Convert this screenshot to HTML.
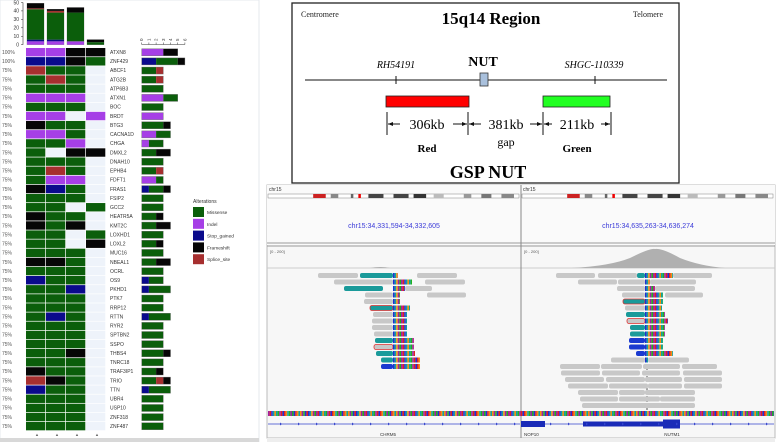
<!DOCTYPE html>
<html><head><meta charset="utf-8"><style>
html,body{margin:0;padding:0;background:#fff;}
svg{display:block;font-family:"Liberation Sans",sans-serif;}
.serif{font-family:"Liberation Serif",serif;}
</style></head><body>
<svg id="fig" width="778" height="442" viewBox="0 0 778 442" xmlns="http://www.w3.org/2000/svg">
<rect x="0" y="0" width="778" height="442" fill="#fff"/>
<rect x="0" y="0" width="259" height="442" fill="#fff" stroke="#e4e8ee" stroke-width="1"/>
<g id="onco"></g>
<rect x="0" y="438" width="259" height="4" fill="#d8d8d8"/>

<g class="serif">
<rect x="292" y="3" width="387" height="180" fill="#fff" stroke="#222" stroke-width="1.3"/>
<text x="301" y="17" font-size="8" fill="#222">Centromere</text>
<text x="663" y="17" font-size="8" fill="#222" text-anchor="end">Telomere</text>
<text x="491" y="24" font-size="17" font-weight="bold" text-anchor="middle">15q14 Region</text>
<text x="396" y="68" font-size="10" font-style="italic" text-anchor="middle">RH54191</text>
<text x="483" y="66" font-size="14" font-weight="bold" text-anchor="middle">NUT</text>
<text x="594" y="68" font-size="10" font-style="italic" text-anchor="middle">SHGC-110339</text>
<line x1="305" y1="80" x2="667" y2="80" stroke="#111" stroke-width="1"/>
<line x1="396" y1="76" x2="396" y2="84" stroke="#111"/>
<line x1="595" y1="76" x2="595" y2="84" stroke="#111"/>
<rect x="480" y="73" width="8" height="13" fill="#a9c0dc" stroke="#333" stroke-width="0.8"/>
<rect x="386" y="96" width="83" height="11" fill="#f00" stroke="#222" stroke-width="0.8"/>
<rect x="543" y="96" width="67" height="11" fill="#2f2" stroke="#222" stroke-width="0.8"/>
<g stroke="#111" stroke-width="1">
<line x1="387" y1="112" x2="387" y2="135"/><line x1="468" y1="112" x2="468" y2="135"/>
<line x1="543" y1="112" x2="543" y2="135"/><line x1="611" y1="112" x2="611" y2="135"/>
<line x1="388" y1="124" x2="400" y2="124"/><line x1="453" y1="124" x2="467" y2="124"/>
<line x1="469" y1="124" x2="481" y2="124"/><line x1="530" y1="124" x2="542" y2="124"/>
<line x1="544" y1="124" x2="552" y2="124"/><line x1="601" y1="124" x2="610" y2="124"/>
</g>
<g fill="#111">
<polygon points="388,124 393,122 393,126"/><polygon points="467,124 462,122 462,126"/>
<polygon points="469,124 474,122 474,126"/><polygon points="542,124 537,122 537,126"/>
<polygon points="544,124 549,122 549,126"/><polygon points="610,124 605,122 605,126"/>
</g>
<text x="427" y="129" font-size="14" text-anchor="middle">306kb</text>
<text x="506" y="129" font-size="14" text-anchor="middle">381kb</text>
<text x="577" y="129" font-size="14" text-anchor="middle">211kb</text>
<text x="427" y="152" font-size="11" font-weight="bold" text-anchor="middle">Red</text>
<text x="506" y="146" font-size="12" text-anchor="middle">gap</text>
<text x="577" y="152" font-size="11" font-weight="bold" text-anchor="middle">Green</text>
<text x="488" y="178" font-size="18" font-weight="bold" text-anchor="middle">GSP NUT</text>
</g>

<g id="igv">
<rect x="267" y="185" width="508" height="253" fill="#f7f7f7" stroke="#bbb"/>
<rect x="267" y="185" width="508" height="60" fill="#fafafa"/>
<line x1="267" y1="243" x2="775" y2="243" stroke="#999"/><line x1="267" y1="246" x2="775" y2="246" stroke="#999"/>
<line x1="267" y1="268" x2="775" y2="268" stroke="#ccc"/>
<line x1="521" y1="185" x2="521" y2="438" stroke="#888"/>
<text x="269" y="191" font-size="5" fill="#333">chr15</text>
<text x="523" y="191" font-size="5" fill="#333">chr15</text>
<text x="394" y="228" font-size="7" fill="#3a3ad8" text-anchor="middle">chr15:34,331,594-34,332,605</text>
<text x="648" y="228" font-size="7" fill="#3a3ad8" text-anchor="middle">chr15:34,635,263-34,636,274</text>
<text x="270" y="253" font-size="4" fill="#555">[0 - 200]</text>
<text x="524" y="253" font-size="4" fill="#555">[0 - 200]</text>
<path d="M572 268 Q610 266 630 258 Q650 248 655 249 Q662 248 680 258 Q700 266 725 268 Z" fill="#b0b0b0"/>
<path d="M370 268 Q380 266 390 268 Z" fill="#b0b0b0"/>
<line x1="647" y1="360" x2="647" y2="410" stroke="#555" stroke-dasharray="2,2"/>
<line x1="268" y1="424" x2="520" y2="424" stroke="#3344cc" stroke-width="0.8"/>
<line x1="522" y1="424" x2="774" y2="424" stroke="#3344cc" stroke-width="0.8"/>
<rect x="521" y="421" width="24" height="6" fill="#1a2bb8"/>
<rect x="583" y="421.5" width="80" height="5" fill="#1a2bb8"/>
<rect x="663" y="419.5" width="17" height="9" fill="#1a2bb8"/>
<text x="388" y="436" font-size="4.5" fill="#333" text-anchor="middle">CHRM5</text>
<text x="524" y="436" font-size="4.5" fill="#333">NOP10</text>
<text x="672" y="436" font-size="4.5" fill="#333" text-anchor="middle">NUTM1</text>
</g>
<rect x="267" y="438" width="508" height="4" fill="#eee"/>
</svg>
<script>
const NS='http://www.w3.org/2000/svg';
function mk(parent,tag,attrs){const e=document.createElementNS(NS,tag);for(const k in attrs)e.setAttribute(k,attrs[k]);parent.appendChild(e);return e;}

const genes=["ATXN8","ZNF429","ABCF1","ATG2B","ATP6B3","ATXN1","BOC","BRDT","BTG3","CACNA1D","CHGA","DMXL2","DNAH10","EPHB4","FDFT1","FRAS1","FSIP2","GCC2","HEATR5A","KMT2C","LOXHD1","LOXL2","MUC16","NBEAL1","OCRL","OS9","PKHD1","PTK7","RRP12","RTTN","RYR2","SPTBN2","SSPO","THBS4","TNRC18","TRAF3IP1","TRIO","TTN","UBR4","USP10","ZNF318","ZNF487"];
const percents=["100%","100%","75%","75%","75%","75%","75%","75%","75%","75%","75%","75%","75%","75%","75%","75%","75%","75%","75%","75%","75%","75%","75%","75%","75%","75%","75%","75%","75%","75%","75%","75%","75%","75%","75%","75%","75%","75%","75%","75%","75%","75%"];
const matrix=["PPKK","BBKG","RGGE","GRGE","GGGE","PPPE","GGGE","PPEP","KGGE","PPGE","GGPE","GEKK","GGGE","GRGE","GPPE","KBGE","GGGE","GGEG","KGGE","KGKE","GGEG","GGEK","GGGE","KKGE","GGGE","BGGE","GGBE","GGGE","GGGE","GBGE","GGGE","GGGE","GGGE","GGKE","GGGE","KGGE","RKGE","BGGE","GGGE","GGGE","GGGE","GGGE"];
const sideBars=["P3K2","B2G3K1","G2R1","G2R1","G3","P3G2","G3","P3","G3K1","P2G2","P1G2","G2K2","G3","G2R1","P2G1","B1G2K1","G3","G3","G2K1","G2K2","G3","G2K1","G3","G2K2","G3","B1G2","B1G3","G3","G3","B1G3","G3","G3","G3","G3K1","G3","G2K1","G2R1K1","B1G3","G3","G3","G3","G3"];
const topStacks=[[["P",4],["B",2],["G",36],["R",1],["K",6]],[["P",4],["B",2],["G",32],["R",2],["K",2]],[["P",4],["G",34],["K",6]],[["G",3],["K",3]]];
const topTicks=[0,10,20,30,40,50];
const sideTicks=[0,1,2,3,4,5,6];
const legendTypes=["Missense","Indel","Stop_gained","Frameshift","Splice_site"];
const COL={G:"#0b5e0b",P:"#a63fe6",B:"#0a0a8c",K:"#060606",R:"#a62f2f",E:"#eef3fa"};
const legendCodes=["G","P","B","K","R"];

const onco=document.getElementById('onco');
const colX=i=>26+i*20, rowY=i=>48+i*9.12;
const topY=v=>44.7-v*0.845;
const sideX=v=>141.7+v*7.2;

let ax=mk(onco,'line',{x1:23,y1:topY(0),x2:23,y2:topY(50),stroke:'#333','stroke-width':0.6});


topTicks.forEach(t=>{
  mk(onco,'line',{x1:21,x2:23,y1:topY(t),y2:topY(t),stroke:'#333','stroke-width':0.5});
  const tx=mk(onco,'text',{x:19,y:topY(t)+1.8,'font-size':5,'text-anchor':'end',fill:'#333'});tx.textContent=t;
  
  
});
topStacks.forEach((st,i)=>{
  let acc=0;
  const tot=st.reduce((a,s)=>a+s[1],0);
  mk(onco,'rect',{x:colX(i)+1,y:topY(tot),width:17,height:topY(0)-topY(tot),fill:'none',stroke:'#888','stroke-width':0.4});
  st.forEach(s=>{
    const r=mk(onco,'rect',{x:colX(i)+1,y:topY(acc+s[1]),width:17,height:topY(acc)-topY(acc+s[1]),fill:COL[s[0]]});
    
    
    acc+=s[1];
  });
});
mk(onco,'line',{x1:sideX(0),x2:sideX(6),y1:44.5,y2:44.5,stroke:'#333','stroke-width':0.6});
sideTicks.forEach(t=>{
  mk(onco,'line',{x1:sideX(t),x2:sideX(t),y1:42.5,y2:44.5,stroke:'#333','stroke-width':0.5});
  const tx=mk(onco,'text',{x:sideX(t)+1.5,y:41,'font-size':4.5,fill:'#333',transform:`rotate(-90 ${sideX(t)+1.5} 41)`});tx.textContent=t;
  
  
});
genes.forEach((g,r)=>{
  const y=rowY(r);
  const p=mk(onco,'text',{x:2,y:y+6,'font-size':5,fill:'#555'});p.textContent=percents[r];
  
  
  for(let c=0;c<4;c++){
    const cell=mk(onco,'rect',{x:colX(c),y:y,width:19.3,height:8.4,fill:COL[matrix[r][c]]});
    
    
  }
  const gl=mk(onco,'text',{x:110,y:y+6,'font-size':5,fill:'#333'});gl.textContent=g;
  
  
  const segs=sideBars[r].match(/[A-Z]\d/g);let acc=0;
  segs.forEach(s=>{const n=+s[1];
    const b=mk(onco,'rect',{x:sideX(acc),y:y+0.8,width:sideX(acc+n)-sideX(acc),height:7,fill:COL[s[0]]});
    
    
    acc+=n;});
  mk(onco,'rect',{x:sideX(0),y:y+0.8,width:sideX(acc)-sideX(0),height:7,fill:'none',stroke:'#666','stroke-width':0.4});
});
for(let c=0;c<4;c++){const t=mk(onco,'text',{x:colX(c)+9,y:436,'font-size':4,fill:'#666'});t.textContent='▲';}
const lt=mk(onco,'text',{x:193,y:203,'font-size':5,fill:'#333'});lt.textContent='Alterations';


legendTypes.forEach((n,i)=>{
  const y=207+i*11.8;
  const b=mk(onco,'rect',{x:193,y:y,width:11,height:10,fill:COL[legendCodes[i]]});
  
  
  const t=mk(onco,'text',{x:207,y:y+7,'font-size':4.8,fill:'#333'});t.textContent=n;
  
  
});

const igv=document.getElementById('igv');
const stripeCols=["#e02020","#20b020","#f09010","#2030d0","#a020a0","#10a0a0"];
function stripes(x0,x1,y,h){for(let x=x0,k=0;x<x1;x+=1.6,k++){mk(igv,'rect',{x:x,y:y,width:Math.min(1.6,x1-x),height:h,fill:stripeCols[(k*7+Math.floor(x))%6]});}}
[[268,519],[522,773]].forEach(([a,b])=>{
  mk(igv,'rect',{x:a,y:194,width:b-a,height:4,fill:'#fff',stroke:'#666','stroke-width':0.4});
  const w=b-a;
  [[.18,.05,'#c22'],[.36,.01,'#e00'],[.25,.03,'#888'],[.33,.01,'#666'],[.4,.06,'#444'],[.5,.06,'#444'],[.58,.05,'#333'],[.66,.04,'#bbb'],[.78,.03,'#999'],[.85,.04,'#777'],[.93,.05,'#888']].forEach(([p,q,c])=>mk(igv,'rect',{x:a+p*w,y:194,width:q*w,height:4,fill:c}));
});
const leftReads=[[0,318,358,'g'],[0,360,393,'t'],[0,417,457,'g'],[1,334,393,'g'],[1,425,465,'g'],[2,344,383,'t'],[2,405,432,'g'],[3,365,393,'g'],[3,427,466,'g'],[4,364,393,'g'],[5,370,393,'ot'],[6,373,393,'g'],[7,372,393,'g'],[8,372,393,'g'],[9,374,393,'g'],[10,375,393,'t'],[11,374,393,'og'],[12,376,393,'t'],[13,381,393,'t'],[14,381,393,'b']];
const leftMis=[[0,398],[1,412],[2,405],[3,400],[4,400],[5,410],[6,407],[7,407],[8,407],[9,407],[10,414],[11,414],[12,415],[13,420],[14,420]];
const rightReads=[[0,556,595,'g'],[0,598,637,'g'],[0,637,645,'t'],[0,673,712,'g'],[1,578,617,'g'],[1,618,645,'g'],[1,650,696,'g'],[2,617,645,'g'],[2,655,695,'g'],[3,622,645,'g'],[3,665,703,'g'],[4,623,645,'ot'],[5,625,645,'g'],[6,626,645,'t'],[7,627,645,'og'],[8,630,645,'t'],[9,630,645,'t'],[10,629,645,'b'],[11,629,645,'b'],[12,636,645,'b'],[13,611,645,'g'],[13,648,689,'g'],[14,560,600,'g'],[14,601,642,'g'],[14,643,680,'g'],[14,682,717,'g'],[15,561,600,'g'],[15,602,640,'g'],[15,642,680,'g'],[15,683,722,'g'],[16,565,604,'g'],[16,606,645,'g'],[16,645,682,'g'],[16,684,722,'g'],[17,568,608,'g'],[17,609,648,'g'],[17,648,682,'g'],[17,684,722,'g'],[18,578,618,'g'],[18,619,645,'g'],[18,645,695,'g'],[19,580,618,'g'],[19,619,660,'g'],[19,660,695,'g'],[20,582,695,'g']];
const rightMis=[[0,673],[1,650],[2,655],[3,663],[4,663],[5,662],[6,665],[7,668],[8,665],[9,665],[10,663],[11,663],[12,673],[13,648]];
const readY=r=>273+r*6.5;
const KC={g:'#c8c8c8',t:'#1a9a9a',b:'#1a3ad0'};
function drawReads(reads,mis,center){
  reads.forEach(([r,a,b,k])=>{
    const base=k[0]==='o'?k[1]:k;
    const rc=mk(igv,'rect',{x:a,y:readY(r),width:b-a,height:5,rx:2,fill:KC[base],stroke:k[0]==='o'?'#e03030':'none','stroke-width':0.8});
    
    
  });
  mis.forEach(([r,b])=>stripes(center,b,readY(r),5));
}
drawReads(leftReads,leftMis,393);
drawReads(rightReads,rightMis,645);
stripes(268,774,411,5);
for(let x=280;x<775;x+=18){if(x>519&&x<545)continue;mk(igv,'polygon',{points:`${x},422.5 ${x+2},424 ${x},425.5`,fill:'#3344cc'});}
</script>
</body></html>
